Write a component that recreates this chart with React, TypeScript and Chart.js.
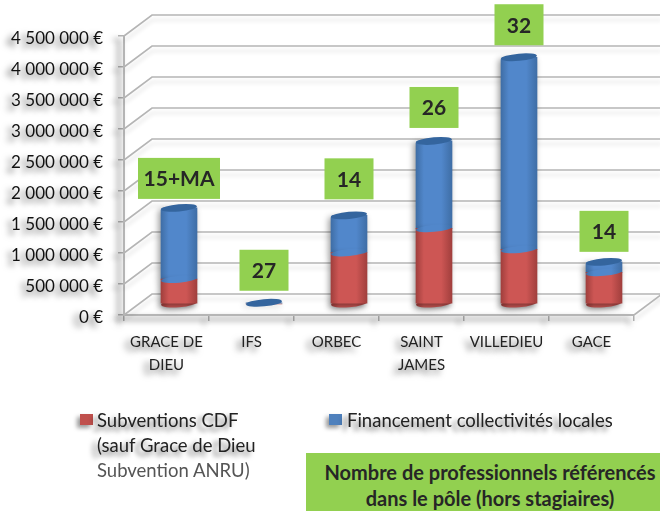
import React, { useEffect, useRef } from "react";
import { Chart, registerables } from "chart.js";

Chart.register(...registerables);

const categories = [["GRACE DE", "DIEU"], "IFS", "ORBEC", ["SAINT", "JAMES"], "VILLEDIEU", "GACE"];
const subventionsCdf = [400000, 0, 830000, 1220000, 880000, 510000];
const financementCollectivites = [1150000, 20000, 600000, 1410000, 3100000, 170000];
const professionnels = ["15+MA", "27", "14", "26", "32", "14"];
const boxGaps = [9, 12, 16, 13, 12, 10];

const RED = "#C0504D";
const BLUE = "#4F81BD";
const GREEN = "#92D050";
const GRID = "#b5b5b5";
const FONT = "Lato, Carlito, sans-serif";
const DEPTH_X = 28;
const DEPTH_Y = 21;
const BAR_DX = 12.5;
const BAR_DY = -11;
const BAR_W = 36;
const TEXT_SHADOW = "-5px 4px 5px rgba(0,0,0,0.55)";

const sideGradient = (ctx: CanvasRenderingContext2D, x: number, stops: string[]) => {
  const g = ctx.createLinearGradient(x - BAR_W / 2, 0, x + BAR_W / 2, 0);
  g.addColorStop(0, stops[0]);
  g.addColorStop(0.22, stops[1]);
  g.addColorStop(0.7, stops[1]);
  g.addColorStop(1, stops[0]);
  return g;
};
const RED_STOPS = ["#a13f3d", "#cd5654"];
const BLUE_STOPS = ["#3f6ea6", "#5187cb"];

const ellipse = (ctx: CanvasRenderingContext2D, x: number, y: number, ry: number, fill: any) => {
  ctx.beginPath();
  ctx.ellipse(x, y, BAR_W / 2, ry, -0.09, 0, Math.PI * 2);
  ctx.fillStyle = fill;
  ctx.fill();
};

const scripted = (stops: string[]) => (c: any) => {
  const sx = c.chart.scales.x;
  if (!sx || c.dataIndex === undefined) return stops[1];
  const px = sx.getPixelForValue(c.dataIndex);
  if (!Number.isFinite(px)) return stops[1];
  return sideGradient(c.chart.ctx, px, stops);
};

const cylinderPlugin = {
  id: "cylinder",
  beforeDraw(chart: any) {
    const ctx = chart.ctx;
    ctx.save();
    ctx.shadowColor = "rgba(0,0,0,0.6)";
    ctx.shadowBlur = 6;
    ctx.shadowOffsetX = -5;
    ctx.shadowOffsetY = 4;
  },
  afterDraw(chart: any) {
    chart.ctx.restore();
  },
  beforeDatasetsDraw(chart: any) {
    const ctx = chart.ctx;
    const { x, y } = chart.scales;
    const left = x.left;
    const right = x.right;
    ctx.save();
    ctx.shadowColor = "rgba(0,0,0,0.14)";
    ctx.shadowBlur = 4;
    ctx.shadowOffsetX = 0;
    ctx.shadowOffsetY = 5;
    ctx.strokeStyle = GRID;
    ctx.lineWidth = 1.6;
    y.ticks.forEach((t: any) => {
      const py = y.getPixelForValue(t.value);
      ctx.beginPath();
      ctx.moveTo(left, py);
      ctx.lineTo(left + DEPTH_X, py - DEPTH_Y);
      ctx.lineTo(right + DEPTH_X, py - DEPTH_Y);
      ctx.stroke();
    });
    const py0 = y.getPixelForValue(0);
    ctx.beginPath();
    ctx.moveTo(right, py0);
    ctx.lineTo(right + DEPTH_X, py0 - DEPTH_Y);
    ctx.stroke();
    ctx.restore();

    ctx.save();
    ctx.translate(BAR_DX, BAR_DY);
    ctx.shadowColor = "rgba(0,0,0,0.4)";
    ctx.shadowBlur = 6;
    ctx.shadowOffsetX = -2;
    ctx.shadowOffsetY = 2;
    chart.getDatasetMeta(0).data.forEach((bar: any, i: number) => {
      if (subventionsCdf[i] > 0) ellipse(ctx, bar.x, bar.base, 4, sideGradient(ctx, bar.x, RED_STOPS));
    });
  },
  afterDatasetsDraw(chart: any) {
    const ctx = chart.ctx;
    const lower = chart.getDatasetMeta(0).data;
    const upper = chart.getDatasetMeta(1).data;
    ctx.shadowColor = "transparent";
    ctx.shadowBlur = 0;
    ctx.shadowOffsetX = 0;
    ctx.shadowOffsetY = 0;
    upper.forEach((bar: any, i: number) => {
      if (subventionsCdf[i] > 0) ellipse(ctx, bar.x, lower[i].y, 3.5, sideGradient(ctx, bar.x, BLUE_STOPS));
      ellipse(ctx, bar.x, bar.y, 3.6, "#34659e");
    });
    ctx.restore();

    ctx.save();
    ctx.shadowColor = "transparent";
    upper.forEach((bar: any, i: number) => {
      const text = professionnels[i];
      const w = text.length > 2 ? 82 : 49;
      const h = 41;
      const cx = bar.x + BAR_DX;
      const bottom = bar.y + BAR_DY - boxGaps[i];
      ctx.fillStyle = GREEN;
      ctx.fillRect(cx - w / 2, bottom - h, w, h);
      ctx.fillStyle = "#262626";
      ctx.font = `bold 21px ${FONT}`;
      ctx.textAlign = "center";
      ctx.textBaseline = "middle";
      ctx.fillText(text, cx, bottom - h / 2 + 1);
    });
    ctx.restore();
  },
};

export default function App() {
  const ref = useRef<HTMLCanvasElement>(null);
  useEffect(() => {
    const chart = new Chart(ref.current as HTMLCanvasElement, {
      type: "bar",
      data: {
        labels: categories as any,
        datasets: [
          {
            label: "Subventions CDF (sauf Grace de Dieu Subvention ANRU)",
            data: subventionsCdf,
            backgroundColor: scripted(RED_STOPS) as any,
            barThickness: BAR_W,
            clip: false as any,
          },
          {
            label: "Financement collectivités locales",
            data: financementCollectivites,
            backgroundColor: scripted(BLUE_STOPS) as any,
            barThickness: BAR_W,
            clip: false as any,
            borderRadius: { topLeft: 3, topRight: 0, bottomLeft: 0, bottomRight: 0 } as any,
          },
        ],
      },
      options: {
        responsive: false,
        animation: false,
        layout: { padding: { top: 36, right: 26, left: 0, bottom: 0 } },
        plugins: { legend: { display: false }, title: { display: false }, tooltip: { enabled: false } },
        scales: {
          x: {
            stacked: true,
            grid: { display: true, drawOnChartArea: false, drawTicks: true, tickLength: 6, color: GRID, lineWidth: 1.5 },
            border: { display: true, color: GRID, width: 2 },
            ticks: {
              autoSkip: false,
              maxRotation: 0,
              minRotation: 0,
              padding: 10,
              color: "#222",
              font: { family: FONT, size: 15, lineHeight: 23 / 15 },
            },
            afterFit(scale: any) {
              scale.height = 196;
            },
          },
          y: {
            stacked: true,
            min: 0,
            max: 4500000,
            grid: { display: true, drawOnChartArea: false, drawTicks: true, tickLength: 6, color: GRID, lineWidth: 1.5 },
            border: { display: true, color: GRID, width: 2 },
            ticks: {
              stepSize: 500000,
              padding: 15,
              color: "#111",
              labelOffset: 3,
              font: { family: FONT, size: 17 },
              callback: (v: any) => `${String(v).replace(/\B(?=(\d{3})+$)/g, " ")} €`,
            },
            afterFit(scale: any) {
              scale.width = 124;
            },
          },
        },
      },
      plugins: [cylinderPlugin as any],
    });
    return () => chart.destroy();
  }, []);

  const legendText: React.CSSProperties = {
    position: "absolute",
    fontFamily: FONT,
    fontSize: 18.5,
    lineHeight: "25px",
    color: "#222",
    whiteSpace: "nowrap",
    textShadow: TEXT_SHADOW,
  };
  const swatch: React.CSSProperties = {
    position: "absolute",
    width: 13,
    height: 11,
    top: 414,
    boxShadow: "-3px 3px 4px rgba(0,0,0,0.4)",
  };

  return (
    <div style={{ position: "absolute", left: 0, top: 0, width: 660, height: 511, overflow: "hidden", background: "#fff" }}>
      <canvas ref={ref} width={660} height={511} style={{ display: "block", filter: "blur(0.45px)" }} />
      <div style={{ ...swatch, left: 80, background: RED }} />
      <div style={{ ...legendText, left: 97, top: 408 }}>
        Subventions CDF
        <br />
        (sauf Grace de Dieu
        <br />
        <span style={{ color: "#555", textShadow: "none" }}>Subvention ANRU)</span>
      </div>
      <div style={{ ...swatch, left: 329, background: BLUE }} />
      <div style={{ ...legendText, left: 347, top: 408 }}>Financement collectivités locales</div>
      <div
        style={{
          position: "absolute",
          left: 306,
          top: 453,
          width: 354,
          height: 58,
          background: GREEN,
          color: "#262626",
          fontFamily: FONT,
          fontWeight: 700,
          fontSize: 20,
          lineHeight: "26px",
          textAlign: "center",
          paddingTop: 6,
          paddingLeft: 14,
          boxSizing: "border-box",
          whiteSpace: "nowrap",
        }}
      >
        Nombre de professionnels référencés
        <br />
        dans le pôle (hors stagiaires)
      </div>
    </div>
  );
}
